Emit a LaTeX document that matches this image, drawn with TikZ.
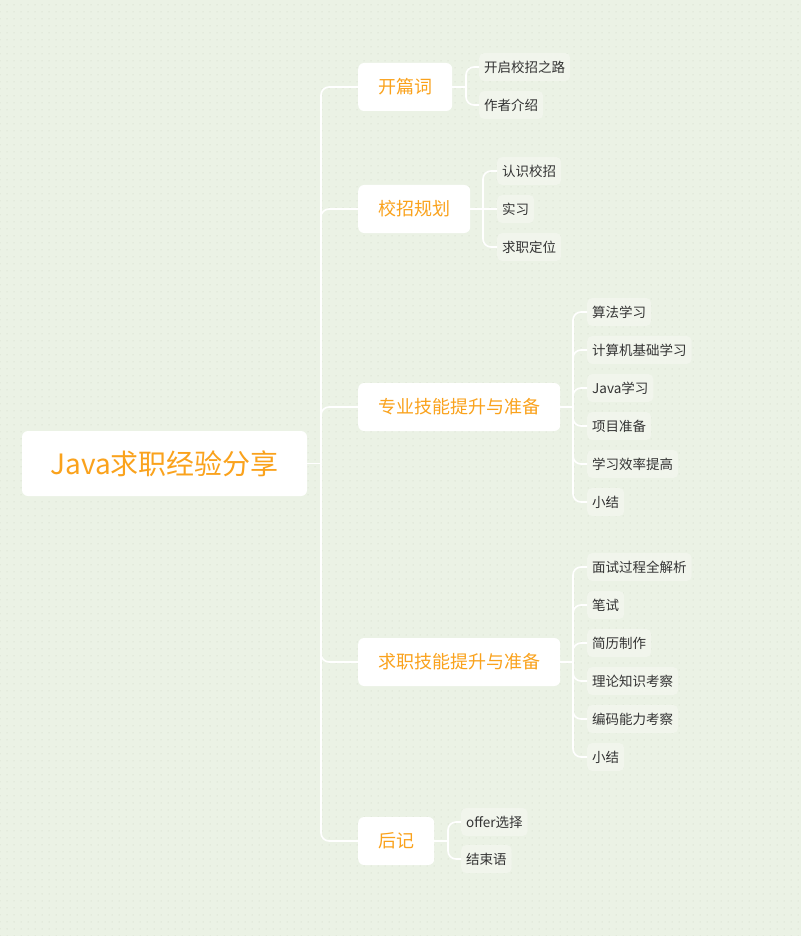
\documentclass[tikz,border=0pt]{standalone}
\usepackage{fontspec}
\setmainfont{Noto Sans CJK SC}
\usepackage{xcolor}
\usetikzlibrary{patterns.meta}

\definecolor{bgc}{HTML}{EBF2E5}
\definecolor{dotc}{HTML}{C9D3C2}
\definecolor{leafc}{HTML}{F1F5EC}
\definecolor{orangec}{HTML}{FAA21C}
\definecolor{textc}{HTML}{333333}

\tikzset{
  rootbox/.style={rounded corners=6pt, fill=white, text=orangec, minimum width=285pt, minimum height=65pt, font=\fontsize{28}{30}\selectfont},
  branchbox/.style={rounded corners=6pt, fill=white, text=orangec, anchor=west, inner xsep=20pt, minimum height=48pt, font=\fontsize{18}{20}\selectfont},
  leafbox/.style={rounded corners=5pt, fill=leafc, text=textc, anchor=west, inner xsep=5pt, minimum height=28pt, font=\fontsize{13.5}{15}\selectfont},
  link/.style={draw=white, line width=1.6pt, rounded corners=8pt},
}

\begin{document}
\begin{tikzpicture}[x=1pt, y=-1pt]
    \fill[bgc] (0,0) rectangle (801,936);
    \fill[pattern={Dots[distance=7pt, radius=0.5pt]}, pattern color=dotc] (0,0) rectangle (801,936);
    \useasboundingbox (0,0) rectangle (801,936);

    %root
    \node[rootbox] (root) at (164.5,463.5) {Java求职经验分享};
    \coordinate (trunk) at (321,463.5);

    %branches
    \node[branchbox] (kpc) at (358,87) {开篇词};
    \node[branchbox] (xzgh) at (358,209) {校招规划};
    \node[branchbox] (zyjn) at (358,407) {专业技能提升与准备};
    \node[branchbox] (qzjn) at (358,662) {求职技能提升与准备};
    \node[branchbox] (hj) at (358,841) {后记};

    \path[link] (root.east)--(trunk);
    \path[link] (trunk)|-(kpc.west);
    \path[link] (trunk)|-(xzgh.west);
    \path[link] (trunk)|-(zyjn.west);
    \path[link] (trunk)|-(qzjn.west);
    \path[link] (trunk)|-(hj.west);

    %leaves of kpc
    \coordinate (kpcj) at (466,87);
    \node[leafbox] (kpc1) at (479,67) {开启校招之路};
    \node[leafbox] (kpc2) at (479,105) {作者介绍};
    \path[link] (kpc.east)--(kpcj);
    \path[link] (kpcj)|-(kpc1.west);
    \path[link] (kpcj)|-(kpc2.west);

    %leaves of xzgh
    \coordinate (xzghj) at (483,209);
    \node[leafbox] (xzgh1) at (497,171) {认识校招};
    \node[leafbox] (xzgh2) at (497,209) {实习};
    \node[leafbox] (xzgh3) at (497,247) {求职定位};
    \path[link] (xzgh.east)--(xzghj);
    \path[link] (xzghj)|-(xzgh1.west);
    \path[link] (xzghj)--(xzgh2.west);
    \path[link] (xzghj)|-(xzgh3.west);

    %leaves of zyjn
    \coordinate (zyjnj) at (573,407);
    \node[leafbox] (zyjn1) at (587,312) {算法学习};
    \node[leafbox] (zyjn2) at (587,350) {计算机基础学习};
    \node[leafbox] (zyjn3) at (587,388) {Java学习};
    \node[leafbox] (zyjn4) at (587,426) {项目准备};
    \node[leafbox] (zyjn5) at (587,464) {学习效率提高};
    \node[leafbox] (zyjn6) at (587,502) {小结};
    \path[link] (zyjn.east)--(zyjnj);
    \path[link] (zyjnj)|-(zyjn1.west);
    \path[link] (zyjnj)|-(zyjn2.west);
    \path[link] (zyjnj)|-(zyjn3.west);
    \path[link] (zyjnj)|-(zyjn4.west);
    \path[link] (zyjnj)|-(zyjn5.west);
    \path[link] (zyjnj)|-(zyjn6.west);

    %leaves of qzjn
    \coordinate (qzjnj) at (573,662);
    \node[leafbox] (qzjn1) at (587,567) {面试过程全解析};
    \node[leafbox] (qzjn2) at (587,605) {笔试};
    \node[leafbox] (qzjn3) at (587,643) {简历制作};
    \node[leafbox] (qzjn4) at (587,681) {理论知识考察};
    \node[leafbox] (qzjn5) at (587,719) {编码能力考察};
    \node[leafbox] (qzjn6) at (587,757) {小结};
    \path[link] (qzjn.east)--(qzjnj);
    \path[link] (qzjnj)|-(qzjn1.west);
    \path[link] (qzjnj)|-(qzjn2.west);
    \path[link] (qzjnj)|-(qzjn3.west);
    \path[link] (qzjnj)|-(qzjn4.west);
    \path[link] (qzjnj)|-(qzjn5.west);
    \path[link] (qzjnj)|-(qzjn6.west);

    %leaves of hj
    \coordinate (hjj) at (448,841);
    \node[leafbox] (hj1) at (461,822) {offer选择};
    \node[leafbox] (hj2) at (461,859) {结束语};
    \path[link] (hj.east)--(hjj);
    \path[link] (hjj)|-(hj1.west);
    \path[link] (hjj)|-(hj2.west);
\end{tikzpicture}
\end{document}
